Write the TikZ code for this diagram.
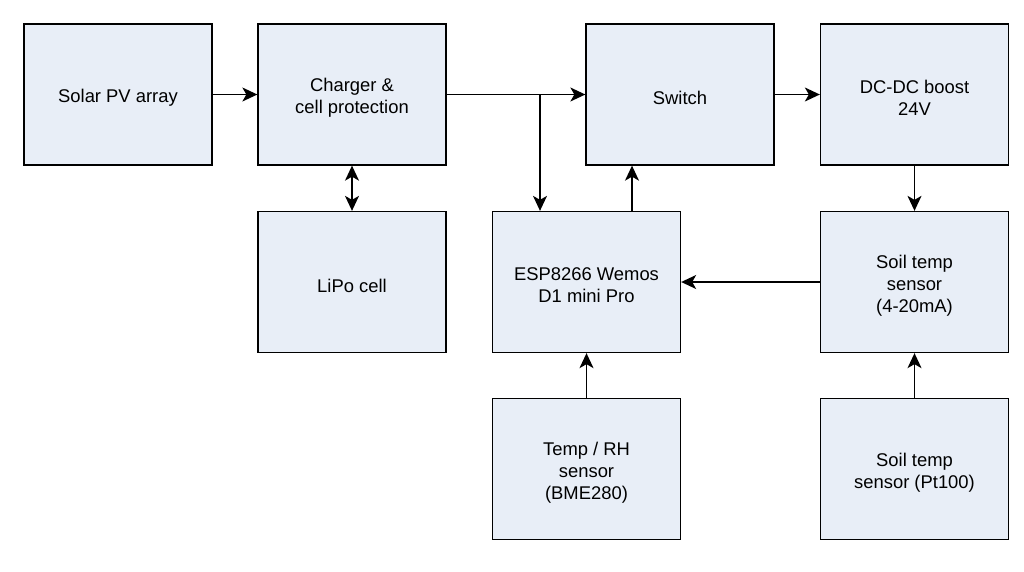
\documentclass[tikz,border=0pt]{standalone}
\usepackage{fontspec}
\setmainfont{Liberation Sans}
\usetikzlibrary{arrows.meta}
\definecolor{boxfill}{RGB}{232,238,247}
\begin{document}
\begin{tikzpicture}[x=1pt,y=-1pt,
  blk/.style={draw=black, line width=1.3pt, fill=boxfill, minimum width=188pt, minimum height=141pt,
    inner sep=0pt, label={[txt]center:#1}},
  txt/.style={align=center, inner sep=0pt, yshift=-3.5pt, font=\fontsize{18.4}{21.8}\selectfont},
  conn/.style={line width=1.4pt, -{Stealth[length=15pt,width=14pt,inset=4pt]}},
  dconn/.style={line width=1.4pt, {Stealth[length=15pt,width=14pt,inset=4pt]}-{Stealth[length=15pt,width=14pt,inset=4pt]}}]
\useasboundingbox (0,0) rectangle (1024,571);
\node[blk={Solar PV array}] (solar) at (118,94.5) {};
\node[blk={Charger \&\\cell protection}] (charger) at (352,94.5) {};
\node[blk={Switch}] (switch) at (680,94.5) {};
\node[blk={DC-DC boost\\24V}] (dcdc) at (914.5,94.5) {};
\node[blk={LiPo cell}] (lipo) at (352,282) {};
\node[blk={ESP8266 Wemos\\D1 mini Pro}] (esp) at (586.5,282) {};
\node[blk={Soil temp\\sensor\\(4-20mA)}] (soil) at (914.5,282) {};
\node[blk={Temp / RH\\sensor\\(BME280)}] (bme) at (586.5,469) {};
\node[blk={Soil temp\\sensor (Pt100)}] (pt) at (914.5,469) {};
\coordinate (br) at (540,94.5);
\draw[conn] (solar) -- (charger);
\draw[conn] (charger) -- (switch);
\draw[conn] (br) -- (br |- esp.north);
\draw[conn] (switch) -- (dcdc);
\draw[dconn] (charger) -- (lipo);
\draw[conn] ([xshift=45.5pt]esp.north) -- ([xshift=45.5pt]esp.north |- switch.south);
\draw[conn] (dcdc) -- (soil);
\draw[conn] (soil) -- (esp);
\draw[conn] (bme) -- (esp);
\draw[conn] (pt) -- (soil);
\end{tikzpicture}
\end{document}
